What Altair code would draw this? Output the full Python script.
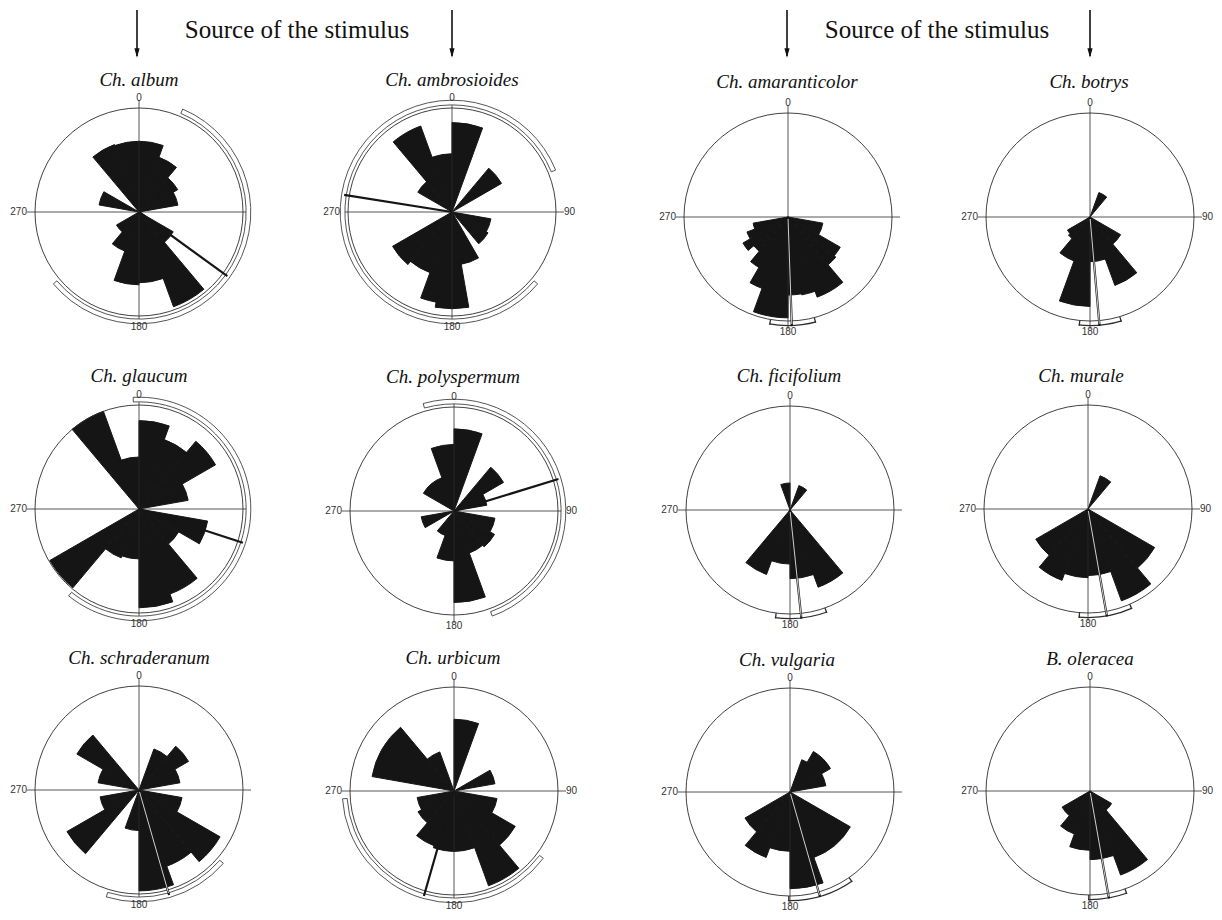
import math
import altair as alt
import pandas as pd

# ---------------- data (bin frequencies as fraction of the outer circle) ----------------
PANELS = ["Ch. album", "Ch. ambrosioides", "Ch. amaranticolor", "Ch. botrys",
          "Ch. glaucum", "Ch. polyspermum", "Ch. ficifolium", "Ch. murale",
          "Ch. schraderanum", "Ch. urbicum", "Ch. vulgaria", "B. oleracea"]
BIN_DEG = 10  # 36 bins, clockwise from 0 (north)

ALBUM = [.68, .68, .56, .56, .43, .43, .38, .38, 0, 0, 0, 0, .38, .38, .97, .97, .68, .68,
         .70, .70, .40, .40, .25, .25, 0, 0, 0, 0, .39, .39, 0, 0, .69, .69, .68, .68]
AMBROSIOIDES = [.86, .86, 0, 0, .55, .55, 0, 0, 0, 0, .38, .38, .40, .40, 0, .51, .51, .93,
                .93, .88, .62, .62, .66, .66, 0, 0, 0, 0, 0, 0, .38, .38, .88, .88, .56, .56]
AMARANTICOLOR = [0, 0, 0, 0, 0, 0, 0, 0, 0, 0, .34, .34, .58, .60, .82, .82, .76, .75,
                 .97, .97, .73, .56, .43, .50, .42, .34, 0, 0, 0, 0, 0, 0, 0, 0, 0, 0]
BOTRYS = [0, 0, .25, .25, 0, 0, 0, 0, 0, 0, 0, 0, .34, .34, .70, .70, .43, .43,
          .86, .86, .45, .45, .27, .25, 0, 0, 0, 0, 0, 0, 0, 0, 0, 0, 0, 0]
GLAUCUM = [.85, .85, .71, .71, .85, .85, .48, .48, 0, 0, .67, .67, .44, .44, .87, .87, .95, .95,
           .48, .48, .50, .50, .99, .99, 0, 0, 0, 0, 0, 0, 0, 0, 1.0, 1.0, .50, .50]
POLYSPERMUM = [.79, .79, 0, 0, .55, .55, .32, .32, 0, 0, .40, .40, .45, .45, .43, .43, .88, .88,
               .48, .48, .25, .25, 0, 0, .32, .32, 0, 0, 0, 0, .34, .34, .34, .34, .64, .64]
FICIFOLIUM = [0, 0, .25, .25, 0, 0, 0, 0, 0, 0, 0, 0, 0, 0, .79, .79, .66, .66,
              .52, .52, .66, .66, 0, 0, 0, 0, 0, 0, 0, 0, 0, 0, 0, 0, .26, .26]
MURALE = [0, 0, .34, .34, 0, 0, 0, 0, 0, 0, 0, 0, .74, .74, .94, .94, .64, .64,
          .66, .66, .73, .73, .58, .58, 0, 0, 0, 0, 0, 0, 0, 0, 0, 0, 0, 0]
SCHRADERANUM = [0, 0, .42, .42, .55, .55, .40, .40, 0, 0, .42, .42, .90, .90, .78, .78, .97, .97,
                .39, .39, 0, 0, .80, .80, .38, .38, 0, 0, .40, .40, .69, .69, 0, 0, 0, 0]
URBICUM = [.69, .69, 0, 0, 0, 0, .40, .40, 0, 0, .42, .42, .68, .68, .97, .97, .58, .58,
           .58, .58, .56, .56, .40, .40, .36, .36, 0, 0, .80, .80, .80, .80, .40, .40, 0, 0]
VULGARIA = [0, 0, .33, .45, .45, .45, .35, .35, 0, 0, 0, 0, .67, .67, .67, .67, .93, .93,
            .57, .57, .67, .67, .50, .50, 0, 0, 0, 0, 0, 0, 0, 0, 0, 0, 0, 0]
OLERACEA = [0, 0, 0, 0, 0, 0, 0, 0, 0, 0, 0, 0, .24, .24, .86, .86, .66, .66,
            .57, .57, .44, .44, .31, .31, 0, 0, 0, 0, 0, 0, 0, 0, 0, 0, 0, 0]
FREQS = [ALBUM, AMBROSIOIDES, AMARANTICOLOR, BOTRYS, GLAUCUM, POLYSPERMUM,
         FICIFOLIUM, MURALE, SCHRADERANUM, URBICUM, VULGARIA, OLERACEA]

MEAN_DIR = [126, 279, 178, 175, 108, 73, 174, 170, 164, 196, 164, 170]
CI_FROM = [23, 130, 165, 163, 357, 344, 160, 156, 131, 127, 145, 160]
CI_TO = [230, 428, 190, 186, 579, 520, 188, 185, 197, 266, 181, 181]
AXIS_LABELS = ["0", "90", "180", "270"]
AXIS_ANGLES = [0, 90, 180, 270]
HEADER = "Source of the stimulus"

# ---------------- layout / style ----------------
M = 8  # page margin
R = 104.0
CENTER_X = [139, 452, 788, 1090, 139, 454, 790, 1088, 139, 454, 790, 1090]
CENTER_Y = [212, 212, 217, 217, 509, 511, 510, 509, 790, 791, 792, 791]
TITLE_X = [139, 452, 787, 1089, 139, 453, 789, 1081, 139, 453, 787, 1090]
TITLE_Y = [80, 80, 82, 82, 376, 377, 376, 376, 658, 658, 660, 659]
DOUBLE_CI = [True, True, False, False, True, True, False, False, True, True, False, False]
WHITE_MEAN = [False, False, True, True, False, False, True, True, True, False, True, True]
SHOW_90 = [False, True, False, True, False, True, False, True, False, True, False, True]
HEADER_X = [297, 937]
HEADER_Y = 30
ARROW_X = [137, 452, 787, 1090]
INK = "#151515"
LINE = "#2b2b2b"

THETA = alt.Scale(domain=[0, 360], range=[0, 2 * math.pi])
RADIUS = alt.Scale(type="linear", domain=[0, 1], range=[0, R], zero=True)
XP = alt.X("cx:Q", scale=None, axis=None)
YP = alt.Y("cy:Q", scale=None, axis=None)


def base(i):
    return dict(panel=PANELS[i], cx=CENTER_X[i] - M, cy=CENTER_Y[i] - M)


# wedges: consecutive bins with equal value are drawn as one sector (no seams)
wedge_rows = []
for i, vals in enumerate(FREQS):
    b = 0
    while b < len(vals):
        v = vals[b]
        e = b
        while e + 1 < len(vals) and vals[e + 1] == v:
            e += 1
        if v > 0:
            wedge_rows.append(dict(base(i), a0=b * BIN_DEG, a1=(e + 1) * BIN_DEG, v=v))
        b = e + 1
wedges = alt.Chart(pd.DataFrame(wedge_rows)).mark_arc(
    fill=INK, stroke=INK, strokeWidth=1.0, strokeJoin="round"
).encode(x=XP, y=YP,
         theta=alt.Theta("a0:Q", scale=THETA, stack=None), theta2="a1:Q",
         radius=alt.Radius("v:Q", scale=RADIUS))

# outer circle
ring_rows = [dict(base(i), a0=0, a1=360, v=1.0) for i in range(12)]
ring = alt.Chart(pd.DataFrame(ring_rows)).mark_arc(
    fillOpacity=0, stroke=LINE, strokeWidth=0.9
).encode(x=XP, y=YP,
         theta=alt.Theta("a0:Q", scale=THETA, stack=None), theta2="a1:Q",
         radius=alt.Radius("v:Q", scale=RADIUS))

# cross-hair axes
cross_rows = []
for i in range(12):
    for d in (0, 90):
        cross_rows.append(dict(base(i), d=d))
cross = alt.Chart(pd.DataFrame(cross_rows)).transform_calculate(
    x1=f"datum.cx - {R + 8}*sin(datum.d*PI/180)",
    x2=f"datum.cx + {R + 8}*sin(datum.d*PI/180)",
    y1=f"datum.cy - {R + 8}*cos(datum.d*PI/180)",
    y2=f"datum.cy + {R + 8}*cos(datum.d*PI/180)",
).mark_rule(color=LINE, strokeWidth=0.8).encode(
    x=alt.X("x1:Q", scale=None, axis=None), x2="x2:Q",
    y=alt.Y("y1:Q", scale=None, axis=None), y2="y2:Q")

# confidence arcs
ci_double = [dict(base(i), a0=CI_FROM[i], a1=CI_TO[i], v=1.075, v0=1.03)
             for i in range(12) if DOUBLE_CI[i]]
ci_d = alt.Chart(pd.DataFrame(ci_double)).mark_arc(
    fill="white", stroke=LINE, strokeWidth=0.8
).encode(x=XP, y=YP,
         theta=alt.Theta("a0:Q", scale=THETA, stack=None), theta2="a1:Q",
         radius=alt.Radius("v:Q", scale=RADIUS), radius2="v0:Q")

ci_single = []
for i in range(12):
    if not DOUBLE_CI[i]:
        ci_single.append(dict(base(i), a0=CI_FROM[i], a1=CI_TO[i], v=1.05, v0=1.038))
        ci_single.append(dict(base(i), a0=CI_FROM[i], a1=CI_FROM[i] + 0.7, v=1.05, v0=1.0))
        ci_single.append(dict(base(i), a0=CI_TO[i] - 0.7, a1=CI_TO[i], v=1.05, v0=1.0))
ci_s = alt.Chart(pd.DataFrame(ci_single)).mark_arc(color=LINE).encode(
    x=XP, y=YP,
    theta=alt.Theta("a0:Q", scale=THETA, stack=None), theta2="a1:Q",
    radius=alt.Radius("v:Q", scale=RADIUS), radius2="v0:Q")

# mean vectors
mean_rows = [dict(base(i), m=MEAN_DIR[i], white=WHITE_MEAN[i]) for i in range(12)]
mean_df = pd.DataFrame(mean_rows)
mean_black = alt.Chart(mean_df).transform_calculate(
    xe=f"datum.cx + {R * 1.05}*sin(datum.m*PI/180)",
    ye=f"datum.cy - {R * 1.05}*cos(datum.m*PI/180)",
).mark_rule(color=INK, strokeWidth=2.2).encode(x=XP, y=YP, x2="xe:Q", y2="ye:Q")
mean_white = alt.Chart(mean_df).transform_filter("datum.white").transform_calculate(
    xs=f"datum.cx + 2*sin(datum.m*PI/180)",
    ys=f"datum.cy - 2*cos(datum.m*PI/180)",
    xe=f"datum.cx + {R * 1.03}*sin(datum.m*PI/180)",
    ye=f"datum.cy - {R * 1.03}*cos(datum.m*PI/180)",
).mark_rule(color="white", strokeWidth=0.8).encode(
    x=alt.X("xs:Q", scale=None, axis=None), y=alt.Y("ys:Q", scale=None, axis=None),
    x2="xe:Q", y2="ye:Q")

# degree labels
lab_rows = []
for i in range(12):
    for t, a in zip(AXIS_LABELS, AXIS_ANGLES):
        if a == 90 and not SHOW_90[i]:
            continue
        lab_rows.append(dict(base(i), t=t, a=a))
lab_df = pd.DataFrame(lab_rows)
label_layers = []
for a, al, bl, off in [(0, "center", "bottom", 5), (90, "left", "middle", 8),
                       (180, "center", "top", 6), (270, "right", "middle", 8)]:
    label_layers.append(
        alt.Chart(lab_df).transform_filter(f"datum.a == {a}").transform_calculate(
            lx=f"datum.cx + {R + off}*sin(datum.a*PI/180)",
            ly=f"datum.cy - {R + off}*cos(datum.a*PI/180)",
        ).mark_text(font="Liberation Sans", fontSize=10, color="#333", align=al, baseline=bl)
        .encode(x=alt.X("lx:Q", scale=None, axis=None), y=alt.Y("ly:Q", scale=None, axis=None),
                text="t:N"))

# panel titles
title_df = pd.DataFrame([dict(name=PANELS[i], tx=TITLE_X[i] - M, ty=TITLE_Y[i] - M) for i in range(12)])
titles = alt.Chart(title_df).mark_text(
    font="Liberation Serif", fontStyle="italic", fontSize=19, color="#111", baseline="middle"
).encode(x=alt.X("tx:Q", scale=None, axis=None), y=alt.Y("ty:Q", scale=None, axis=None), text="name:N")

# header
head_df = pd.DataFrame([dict(t=HEADER, hx=x - M, hy=HEADER_Y - M) for x in HEADER_X])
header = alt.Chart(head_df).mark_text(
    font="Liberation Serif", fontSize=25, color="#111", baseline="middle"
).encode(x=alt.X("hx:Q", scale=None, axis=None), y=alt.Y("hy:Q", scale=None, axis=None), text="t:N")

arrow_df = pd.DataFrame([dict(ax=x - M, ay0=10 - M, ay1=56 - M, ah=53 - M) for x in ARROW_X])
shafts = alt.Chart(arrow_df).mark_rule(color="#111", strokeWidth=1.6).encode(
    x=alt.X("ax:Q", scale=None, axis=None), y=alt.Y("ay0:Q", scale=None, axis=None), y2="ay1:Q")
heads = alt.Chart(arrow_df).mark_point(
    shape="M-0.55,-1L0,1L0.55,-1Z", filled=True, color="#111", size=90, opacity=1
).encode(x=alt.X("ax:Q", scale=None, axis=None), y=alt.Y("ah:Q", scale=None, axis=None))

chart = alt.layer(
    wedges, ring, cross, ci_d, ci_s, mean_black, mean_white, *label_layers, titles,
    header, shafts, heads
).properties(width=1206, height=904, padding=0, autosize="none", background="white"
).configure_view(stroke=None)

chart.save("out.html", embed_options={"renderer": "svg", "actions": False})
